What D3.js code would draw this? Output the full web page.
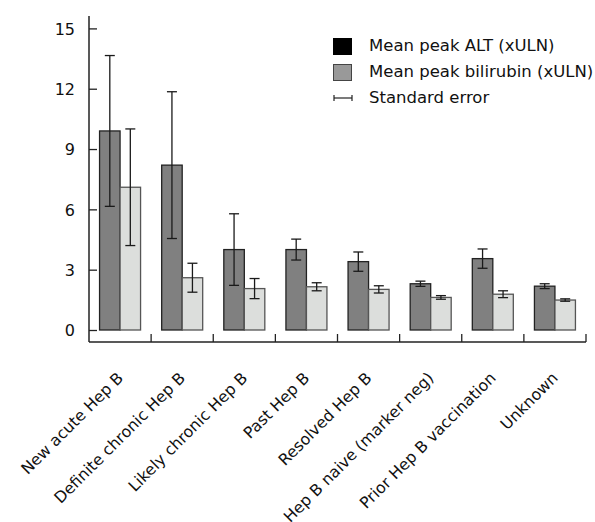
<!DOCTYPE html>
<html>
<head>
<meta charset="utf-8">
<script src="https://cdn.jsdelivr.net/npm/d3@7"></script>
<style>
  body { margin: 0; background: #fff; }
  text { font-family: "DejaVu Sans", sans-serif; fill: #111; }
</style>
</head>
<body>
<svg id="chart" width="595" height="522"></svg>
<script>
// Categories and values
const categories = [
  "New acute Hep B", "Definite chronic Hep B", "Likely chronic Hep B", "Past Hep B",
  "Resolved Hep B", "Hep B naive (marker neg)", "Prior Hep B vaccination", "Unknown"
];
const altMean = [9.9, 8.2, 4.0, 4.0, 3.4, 2.3, 3.55, 2.18];
const altSE   = [3.75, 3.65, 1.78, 0.52, 0.48, 0.13, 0.48, 0.12];
const biliMean = [7.1, 2.6, 2.06, 2.15, 2.02, 1.62, 1.78, 1.49];
const biliSE   = [2.9, 0.72, 0.5, 0.2, 0.18, 0.09, 0.17, 0.06];
const yTicks = [0, 3, 6, 9, 12, 15];
const seriesNames = ["Mean peak ALT (xULN)", "Mean peak bilirubin (xULN)"];
const errorLabel = "Standard error";

const svg = d3.select("#chart");

// Scales
const x = d3.scaleBand().domain(categories).range([89, 586]);
const y = d3.scaleLinear().domain([0, 15]).range([330, 28.4]);
const inner = d3.scaleBand().domain(["alt", "bili"]).range([0, 41]);

const rows = categories.map((c, i) => [
  { cat: c, key: "alt", mean: altMean[i], se: altSE[i] },
  { cat: c, key: "bili", mean: biliMean[i], se: biliSE[i] }
]).flat();

const fills = { alt: "#808080", bili: "#dcdedc" };
const strokes = { alt: "#222", bili: "#555" };

// Bars
svg.append("g").selectAll("rect")
  .data(rows)
  .join("rect")
  .attr("x", d => x(d.cat) + x.bandwidth() / 2 - 20.5 + inner(d.key))
  .attr("y", d => y(d.mean))
  .attr("width", inner.bandwidth())
  .attr("height", d => y(0) - y(d.mean))
  .attr("fill", d => fills[d.key])
  .attr("stroke", d => strokes[d.key])
  .attr("stroke-width", 1.3);

// Error bars
const err = svg.append("g")
  .attr("stroke", "#1a1a1a")
  .attr("stroke-width", 1.3)
  .selectAll("g")
  .data(rows)
  .join("g")
  .attr("transform", d => `translate(${x(d.cat) + x.bandwidth() / 2 - 20.5 + inner(d.key) + inner.bandwidth() / 2},0)`);

err.append("line")
  .attr("y1", d => y(d.mean + d.se))
  .attr("y2", d => y(d.mean - d.se));
err.append("line")
  .attr("x1", -5).attr("x2", 5)
  .attr("y1", d => y(d.mean + d.se)).attr("y2", d => y(d.mean + d.se));
err.append("line")
  .attr("x1", -5).attr("x2", 5)
  .attr("y1", d => y(d.mean - d.se)).attr("y2", d => y(d.mean - d.se));

// Y axis (ticks pointing inward)
const yAxis = svg.append("g")
  .attr("transform", "translate(89,0)")
  .call(d3.axisLeft(y).tickValues(yTicks).tickSizeInner(-8).tickSizeOuter(0).tickPadding(14));
yAxis.select(".domain").remove();
yAxis.selectAll(".tick line").attr("stroke", "#222").attr("stroke-width", 1.3);
yAxis.selectAll("text")
  .style("font-size", "16px")
  .style("font-family", "'DejaVu Sans', sans-serif")
  .attr("dy", "0.36em")
  .style("fill", "#111");

svg.append("line")
  .attr("x1", 89).attr("x2", 89)
  .attr("y1", 16).attr("y2", 342)
  .attr("stroke", "#222").attr("stroke-width", 1.5);

// X axis: line with ticks at band boundaries
const bounds = categories.slice(1).map(c => x(c)).concat([x.range()[1]]);
svg.append("line")
  .attr("x1", 89).attr("x2", x.range()[1])
  .attr("y1", 342).attr("y2", 342)
  .attr("stroke", "#222").attr("stroke-width", 1.5);
svg.append("g").selectAll("line")
  .data(bounds)
  .join("line")
  .attr("x1", d => d).attr("x2", d => d)
  .attr("y1", 342).attr("y2", 334)
  .attr("stroke", "#222").attr("stroke-width", 1.3);

// Category labels, rotated
svg.append("g").selectAll("text")
  .data(categories)
  .join("text")
  .attr("transform", d => `translate(${x(d) + x.bandwidth() / 2 + 4},379) rotate(-45)`)
  .attr("text-anchor", "end")
  .style("font-size", "15.8px")
  .text(d => d);

// Legend
const legend = svg.append("g").attr("transform", "translate(333,0)");
legend.append("rect")
  .attr("x", 0.5).attr("y", 38.5).attr("width", 18).attr("height", 16)
  .attr("fill", "#000").attr("stroke", "#000");
legend.append("rect")
  .attr("x", 0.5).attr("y", 64.5).attr("width", 18).attr("height", 16)
  .attr("fill", "#999").attr("stroke", "#444");
legend.append("line")
  .attr("x1", 1).attr("x2", 19).attr("y1", 98).attr("y2", 98)
  .attr("stroke", "#222").attr("stroke-width", 1.2);
legend.append("line")
  .attr("x1", 1).attr("x2", 1).attr("y1", 95).attr("y2", 101)
  .attr("stroke", "#222").attr("stroke-width", 1.2);
legend.append("line")
  .attr("x1", 19).attr("x2", 19).attr("y1", 95).attr("y2", 101)
  .attr("stroke", "#222").attr("stroke-width", 1.2);

legend.selectAll("text.lab")
  .data(seriesNames.concat([errorLabel]))
  .join("text")
  .attr("class", "lab")
  .attr("x", 36)
  .attr("y", (d, i) => 51 + i * 26)
  .style("font-size", "16.5px")
  .text(d => d);
</script>
</body>
</html>
